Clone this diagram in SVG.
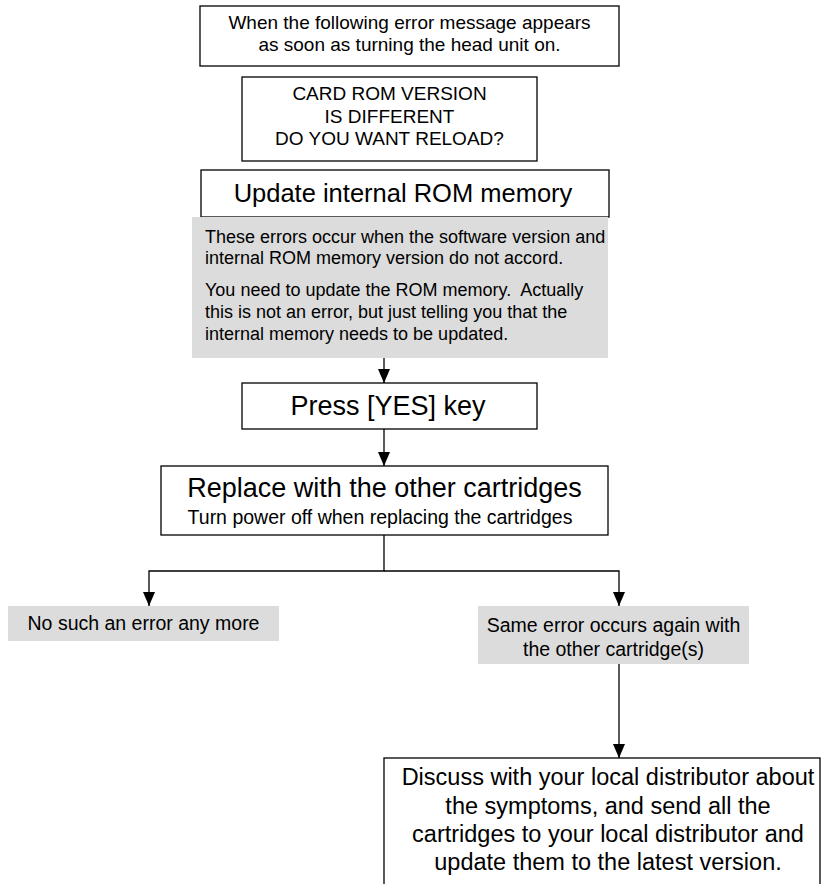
<svg xmlns="http://www.w3.org/2000/svg" width="821" height="884" viewBox="0 0 821 884">
<style>
  text { font-family: "Liberation Sans", Arial, sans-serif; fill: #000; }
  .box { fill: #fff; stroke: #000; stroke-width: 1.3; }
  .gray { fill: #dcdcdc; stroke: none; }
  .s19 { font-size: 19px; }
  .s195 { font-size: 19.5px; }
  .s18 { font-size: 18px; }
  .s24 { font-size: 23.5px; }
  .h { font-size: 27px; }
  .c { text-anchor: middle; }
  .line { stroke: #000; stroke-width: 1.3; fill: none; }
</style>
<defs>
  <marker id="arr" markerWidth="14" markerHeight="12" refX="14" refY="6" orient="auto" markerUnits="userSpaceOnUse" viewBox="0 0 14 12">
    <path d="M0,0 L14,6 L0,12 Z" fill="#000"/>
  </marker>
</defs>
<rect width="821" height="884" fill="#fff"/>

<g id="connectors">
  <line class="line" x1="384" y1="356" x2="384" y2="383" marker-end="url(#arr)"/>
  <line class="line" x1="384" y1="429" x2="384" y2="466" marker-end="url(#arr)"/>
  <polyline class="line" points="384,535 384,571 149,571 149,606" marker-end="url(#arr)"/>
  <polyline class="line" points="384,571 619,571 619,606" marker-end="url(#arr)"/>
  <line class="line" x1="619" y1="664" x2="619" y2="758" marker-end="url(#arr)"/>
</g>

<g id="n-intro">
  <rect class="box" x="200" y="6" width="419" height="60"/>
  <text class="s19 c" x="409.5" y="29">When the following error message appears</text>
  <text class="s19 c" x="409.5" y="51">as soon as turning the head unit on.</text>
</g>

<g id="n-message">
  <rect class="box" x="242" y="77" width="295" height="84"/>
  <text class="s19 c" x="389.5" y="100">CARD ROM VERSION</text>
  <text class="s19 c" x="389.5" y="122.5">IS DIFFERENT</text>
  <text class="s19 c" x="389.5" y="145">DO YOU WANT RELOAD?</text>
</g>

<g id="n-update">
  <rect class="box" x="201" y="170" width="408" height="47"/>
  <text class="c" style="font-size:25.5px" x="403" y="202">Update internal ROM memory</text>
</g>

<g id="n-explain">
  <rect class="gray" x="192" y="217" width="416" height="141"/>
  <text class="s18" x="205" y="243">These errors occur when the software version and</text>
  <text class="s18" x="205" y="264">internal ROM memory version do not accord.</text>
  <text class="s18" x="205" y="296">You need to update the ROM memory.&#160; Actually</text>
  <text class="s18" x="205" y="318">this is not an error, but just telling you that the</text>
  <text class="s18" x="205" y="340">internal memory needs to be updated.</text>
</g>

<g id="n-press">
  <rect class="box" x="242" y="383" width="295" height="46"/>
  <text class="h c" x="388" y="415">Press [YES] key</text>
</g>

<g id="n-replace">
  <rect class="box" x="161" y="466" width="447" height="69"/>
  <text class="h c" x="384.5" y="497">Replace with the other cartridges</text>
  <text class="s195 c" x="380" y="524">Turn power off when replacing the cartridges</text>
</g>

<g id="n-noerror">
  <rect class="gray" x="8" y="606" width="271" height="35"/>
  <text class="s195 c" x="143.5" y="630">No such an error any more</text>
</g>

<g id="n-same">
  <rect class="gray" x="478" y="606" width="271" height="58"/>
  <text class="s195 c" x="613.5" y="632">Same error occurs again with</text>
  <text class="s195 c" x="613.5" y="656">the other cartridge(s)</text>
</g>

<g id="n-discuss">
  <rect class="box" x="384" y="758" width="436" height="140"/>
  <text class="s24 c" x="608" y="785">Discuss with your local distributor about</text>
  <text class="s24 c" x="608" y="814">the symptoms, and send all the</text>
  <text class="s24 c" x="608" y="842">cartridges to your local distributor and</text>
  <text class="s24 c" x="608" y="870">update them to the latest version.</text>
</g>
</svg>
